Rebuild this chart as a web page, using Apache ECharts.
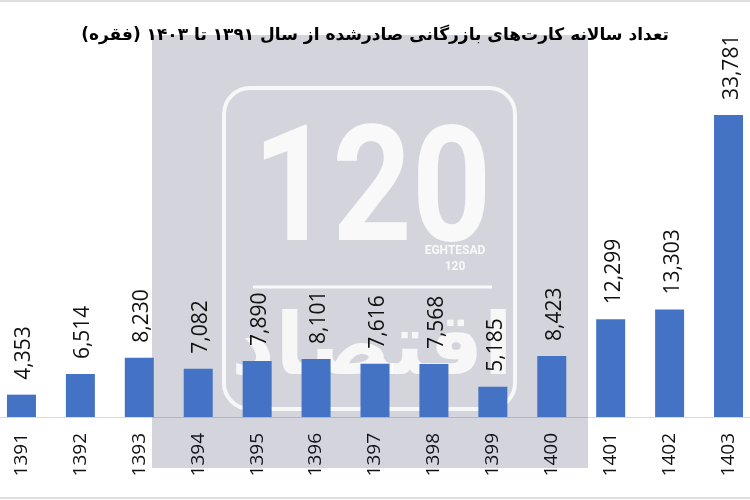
<!DOCTYPE html>
<html>
<head>
<meta charset="utf-8">
<script src="https://cdn.jsdelivr.net/npm/echarts@6/dist/echarts.min.js"></script>
<style>
  html, body { margin: 0; padding: 0; background: #fff; }
  #main { width: 750px; height: 500px; }
</style>
</head>
<body>
<div id="main"></div>
<script>
  // سال‌ها و تعداد کارت‌های بازرگانی صادرشده
  var years = ['1391', '1392', '1393', '1394', '1395', '1396', '1397', '1398', '1399', '1400', '1401', '1402', '1403'];
  var cards = [4353, 6514, 8230, 7082, 7890, 8101, 7616, 7568, 5185, 8423, 12299, 13303, 33781];
  var titleText = 'تعداد سالانه کارت‌های بازرگانی صادرشده از سال ۱۳۹۱ تا ۱۴۰۳ (فقره)';

  var chart = echarts.init(document.getElementById('main'));

  var logoZ = 2, logoZ2 = 0.5;

  chart.setOption({
    animation: false,
    backgroundColor: '#fff',
    title: {
      text: titleText,
      left: 'center',
      top: 22,
      textStyle: {
        fontFamily: 'DejaVu Sans',
        fontWeight: 'bold',
        fontSize: 17,
        color: '#000'
      }
    },
    grid: {
      left: -8,
      width: 766,
      top: 56,
      bottom: 83,
      outerBoundsMode: 'none',
      containLabel: false
    },
    xAxis: {
      type: 'category',
      data: years,
      axisLine: { lineStyle: { color: '#d9d9d9', width: 1 } },
      axisTick: { show: false },
      axisLabel: {
        rotate: 90,
        margin: 16,
        fontFamily: 'Open Sans',
        fontSize: 19,
        color: '#111'
      }
    },
    yAxis: {
      type: 'value',
      min: 2000,
      max: 40000,
      show: false,
      splitLine: { show: false }
    },
    series: [{
      type: 'bar',
      data: cards,
      barWidth: 29,
      itemStyle: { color: '#4472C4' },
      label: {
        show: true,
        position: 'top',
        rotate: 90,
        distance: 15,
        offset: [0, 3],
        align: 'left',
        verticalAlign: 'middle',
        fontFamily: 'Open Sans',
        fontSize: 21,
        color: '#111',
        formatter: function (p) { return p.value.toLocaleString('en-US'); }
      }
    }],
    graphic: [
      // watermark panel
      {
        type: 'rect', z: logoZ, z2: logoZ2, silent: true,
        shape: { x: 152, y: 35, width: 436, height: 433 },
        style: { fill: 'rgba(25,25,70,0.187)' }
      },
      {
        type: 'rect', z: logoZ, z2: logoZ2, silent: true,
        shape: { x: 224, y: 88, width: 291, height: 321, r: 26 },
        style: { fill: 'none', stroke: 'rgba(255,255,255,0.8)', lineWidth: 4 }
      },
      {
        type: 'text', z: logoZ, z2: logoZ2, silent: true,
        x: 372, y: 200, scaleX: 1.12, scaleY: 1.3,
        style: {
          text: '120', fill: 'rgba(255,255,255,0.85)',
          font: 'bold 124px Roboto', align: 'center', verticalAlign: 'middle'
        }
      },
      {
        type: 'text', z: logoZ, z2: logoZ2, silent: true,
        x: 455, y: 251,
        style: {
          text: 'EGHTESAD', fill: 'rgba(255,255,255,0.85)',
          font: 'bold 12px Roboto', align: 'center', verticalAlign: 'middle'
        }
      },
      {
        type: 'text', z: logoZ, z2: logoZ2, silent: true,
        x: 455, y: 267,
        style: {
          text: '120', fill: 'rgba(255,255,255,0.85)',
          font: 'bold 12px Roboto', align: 'center', verticalAlign: 'middle'
        }
      },
      {
        type: 'line', z: logoZ, z2: logoZ2, silent: true,
        shape: { x1: 253, y1: 287, x2: 492, y2: 287 },
        style: { stroke: 'rgba(255,255,255,0.85)', lineWidth: 3 }
      },
      {
        type: 'text', z: logoZ, z2: logoZ2, silent: true,
        x: 372, y: 352,
        style: {
          text: 'اقتصاد', fill: 'rgba(255,255,255,0.8)',
          font: 'bold 86px "DejaVu Sans"', align: 'center', verticalAlign: 'middle'
        }
      },
      // photo edges
      {
        type: 'line', silent: true,
        shape: { x1: 0, y1: 1, x2: 750, y2: 1 },
        style: { stroke: '#dedede', lineWidth: 2 }
      },
      {
        type: 'line', silent: true,
        shape: { x1: 0, y1: 498, x2: 750, y2: 498 },
        style: { stroke: '#dedede', lineWidth: 2 }
      }
    ]
  });
</script>
</body>
</html>
